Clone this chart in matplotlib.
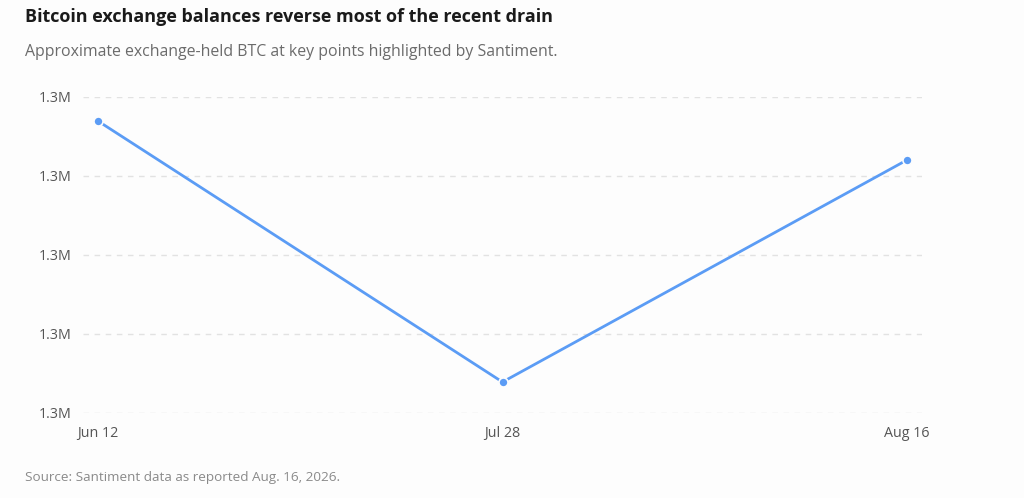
import matplotlib
matplotlib.use("Agg")
import matplotlib.pyplot as plt
from matplotlib.ticker import FuncFormatter

dates = ["Jun 12", "Jul 28", "Aug 16"]
balances = [1306960, 1273920, 1302030]
y_ticks = [1270000, 1280000, 1290000, 1300000, 1310000]

plt.rcParams['font.family'] = ['Open Sans', 'DejaVu Sans']

W, H = 1024, 498
fig = plt.figure(figsize=(W/100, H/100), dpi=100)
fig.patch.set_facecolor('#fdfdfd')

ax = fig.add_axes([83/W, 1-413/H, (922-83)/W, (413-97)/H])
ax.set_facecolor('#fdfdfd')
x = list(range(len(dates)))
ax.plot(x, balances, color='#5b9cf5', lw=2, marker='o', ms=6.5,
        markerfacecolor='#5b9cf5', markeredgecolor='#fdfdfd', markeredgewidth=1.2,
        solid_capstyle='round', zorder=3, clip_on=False)

pad = 15/(909-98)*2
ax.set_xlim(-pad, 2+pad)
ax.set_ylim(y_ticks[0], y_ticks[-1])
ax.set_yticks(y_ticks)
ax.yaxis.set_major_formatter(FuncFormatter(lambda v, p: f"{v/1e6:.1f}M"))
ax.set_xticks(x)
ax.set_xticklabels(dates)
ax.grid(axis='y', color='#e2e2e2', ls=(0, (4, 4)), lw=1)
ax.set_axisbelow(True)
for s in ax.spines.values():
    s.set_visible(False)
ax.tick_params(axis='both', length=0, labelsize=10.3, labelcolor='#555555')
ax.tick_params(axis='y', pad=8)
ax.tick_params(axis='x', pad=9)

fig.text(25/W, 1-17/H, "Bitcoin exchange balances reverse most of the recent drain",
         fontsize=13, fontweight='bold', color='#1a1a1a', va='center', ha='left')
fig.text(25/W, 1-52/H, "Approximate exchange-held BTC at key points highlighted by Santiment.",
         fontsize=11.4, color='#6b6b6b', va='center', ha='left')
fig.text(25/W, 1-478/H, "Source: Santiment data as reported Aug. 16, 2026.",
         fontsize=9.7, color='#8a8a8a', va='center', ha='left')

fig.savefig("out.png", dpi=100, facecolor=fig.get_facecolor())
